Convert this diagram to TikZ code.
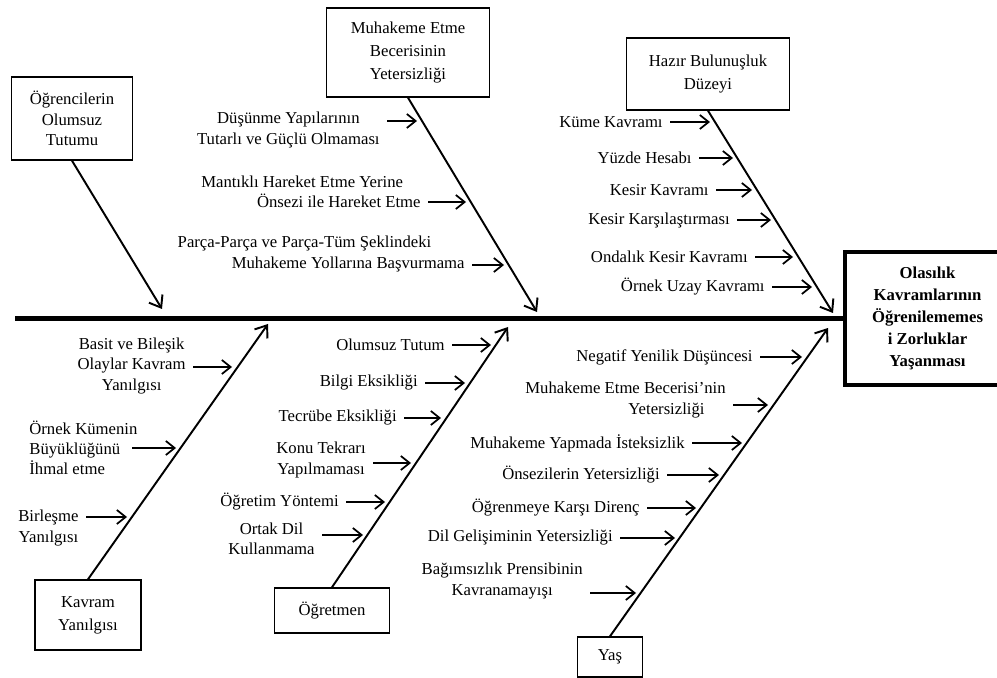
\documentclass[tikz,border=0pt]{standalone}
\usepackage{fontspec}
\setmainfont{Liberation Serif}
\usetikzlibrary{arrows.meta, positioning}
\tikzset{
  cause/.style={rectangle, draw=black, line width=0.8pt, align=center,
                font=\fontsize{9.5}{13}\selectfont},
  effect/.style={rectangle, draw=black, line width=2.3pt, align=center,
                 minimum width=3.3cm, minimum height=2.66cm,
                 font=\bfseries\fontsize{9.5}{12.5}\selectfont},
  sub/.style={align=center, inner xsep=4pt, inner ysep=1pt, anchor=east,
              font=\fontsize{9.5}{11.5}\selectfont},
  spine/.style={line width=2.3pt},
  bone/.style={line width=1.1pt, -{Straight Barb[length=6pt,width=9pt]}},
  twig/.style={line width=1pt, -{Straight Barb[length=5pt,width=8pt]}},
}
\begin{document}
\begin{tikzpicture}[x=0.02cm, y=-0.02cm]
  \useasboundingbox (0,0) rectangle (997,678);

  % head and spine
  \node[effect] (head) at (927.5,318.5) {Olasılık\\Kavramlarının\\Öğrenilememes\\i Zorluklar\\Yaşanması};
  \coordinate (tail) at (15,318.5);
  \draw[spine] (tail) -- (head);

  % main causes
  \node[cause, minimum width=2.42cm, minimum height=1.66cm, font=\fontsize{9.5}{11.5}\selectfont]
       (ogr)  at (72,118.5) {Öğrencilerin\\Olumsuz\\Tutumu};
  \node[cause, minimum width=3.26cm, minimum height=1.78cm] (muh)  at (408,52.5) {Muhakeme Etme\\Becerisinin\\Yetersizliği};
  \node[cause, minimum width=3.26cm, minimum height=1.44cm] (hazir) at (708,74) {Hazır Bulunuşluk\\Düzeyi};
  \node[cause, minimum width=2.12cm, minimum height=1.4cm]  (kav)  at (88,615) {Kavram\\Yanılgısı};
  \node[cause, minimum width=2.3cm, minimum height=0.9cm]   (ogrt) at (332,610.5) {Öğretmen};
  \node[cause, minimum width=1.3cm, minimum height=0.8cm]   (yas)  at (610,657) {Yaş};

  \coordinate (e1) at (162,309);
  \coordinate (e2) at (537,312);
  \coordinate (e3) at (833,313);
  \coordinate (e4) at (268,324);
  \coordinate (e5) at (508,327);
  \coordinate (e6) at (828,328);

  \draw[bone] (ogr.south)   -- (e1);
  \draw[bone] (muh.south)   -- (e2);
  \draw[bone] (hazir.south) -- (e3);
  \draw[bone] (kav.north)   -- (e4);
  \draw[bone] (ogrt.north)  -- (e5);
  \draw[bone] (yas.north)   -- (e6);

  % Muhakeme Etme Becerisinin Yetersizligi
  \node[sub] (t21) at (387,130) {Düşünme Yapılarının\\Tutarlı ve Güçlü Olmaması};
  \node[sub, align=right] (t22) at (428,192) {Mantıklı Hareket Etme Yerine\hspace*{10pt}\\Önsezi ile Hareket Etme};
  \node[sub, align=right] (t23) at (472,254) {Parça-Parça ve Parça-Tüm Şeklindeki\hspace*{19pt}\\Muhakeme Yollarına Başvurmama};
  \coordinate (k21) at (417,121);
  \coordinate (k22) at (466,202);
  \coordinate (k23) at (504,265);

  % Hazir Bulunusluk Duzeyi
  \node[sub] (t31) at (670,122) {Küme Kavramı};
  \node[sub] (t32) at (699,158) {Yüzde Hesabı};
  \node[sub] (t33) at (716,190) {Kesir Kavramı};
  \node[sub] (t34) at (737,220) {Kesir Karşılaştırması};
  \node[sub] (t35) at (755,257) {Ondalık Kesir Kavramı};
  \node[sub] (t36) at (772,287) {Örnek Uzay Kavramı};
  \coordinate (k31) at (710,122);
  \coordinate (k32) at (733,158);
  \coordinate (k33) at (752,190);
  \coordinate (k34) at (771,220);
  \coordinate (k35) at (793,257);
  \coordinate (k36) at (812,287);

  % Kavram Yanilgisi
  \node[sub] (t41) at (193,366) {Basit ve Bileşik\\Olaylar Kavram\\Yanılgısı};
  \node[sub, align=left, anchor=west] (t42) at (22,448) {Örnek Kümenin\\Büyüklüğünü\\İhmal etme};
  \node[sub] (t43) at (86,528) {Birleşme\\Yanılgısı};
  \coordinate (k41) at (232,367);
  \coordinate (k42) at (176,448);
  \coordinate (k43) at (127,517);

  % Ogretmen
  \node[sub] (t51) at (452,345) {Olumsuz Tutum};
  \node[sub] (t52) at (425,383) {Bilgi Eksikliği};
  \node[sub] (t53) at (404,418) {Tecrübe Eksikliği};
  \node[sub] (t54) at (373,460) {Konu Tekrarı\\Yapılmaması};
  \node[sub] (t55) at (346,502) {Öğretim Yöntemi};
  \node[sub] (t56) at (322,539) {Ortak Dil\\Kullanmama};
  \coordinate (k51) at (491,345);
  \coordinate (k52) at (465,383);
  \coordinate (k53) at (441,418);
  \coordinate (k54) at (411,463);
  \coordinate (k55) at (385,502);
  \coordinate (k56) at (363,535);

  % Yas
  \node[sub] (t61) at (760,357) {Negatif Yenilik Düşüncesi};
  \node[sub, align=right] (t62) at (733,400) {Muhakeme Etme Becerisi’nin\\Yetersizliği\hspace*{12pt}};
  \node[sub] (t63) at (692,443) {Muhakeme Yapmada İsteksizlik};
  \node[sub] (t64) at (667,475) {Önsezilerin Yetersizliği};
  \node[sub] (t65) at (647,508) {Öğrenmeye Karşı Direnç};
  \node[sub] (t66) at (620,538) {Dil Gelişiminin Yetersizliği};
  \node[sub] (t67) at (590,581) {Bağımsızlık Prensibinin\\Kavranamayışı};
  \coordinate (k61) at (802,357);
  \coordinate (k62) at (768,405);
  \coordinate (k63) at (742,443);
  \coordinate (k64) at (719,475);
  \coordinate (k65) at (696,508);
  \coordinate (k66) at (675,538);
  \coordinate (k67) at (636,593);

  \foreach \i in {21,22,23,31,32,33,34,35,36,41,43,51,52,53,54,55,56,61,62,63,64,65,66,67}
    \draw[twig] (t\i.east |- k\i) -- (k\i);
  \draw[twig, shorten <=-7pt] (t42.east |- k42) -- (k42);
\end{tikzpicture}
\end{document}
